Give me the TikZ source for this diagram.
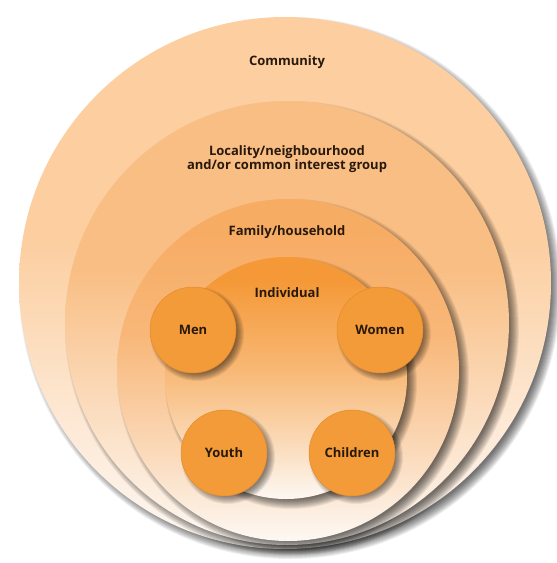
\documentclass[tikz,border=0pt]{standalone}
\usepackage{fontspec}
\setmainfont{Open Sans}
\definecolor{commC}{RGB}{252,206,160}
\definecolor{locC}{RGB}{249,190,132}
\definecolor{famC}{RGB}{247,172,100}
\definecolor{indC}{RGB}{245,153,56}
\definecolor{smallC}{RGB}{243,155,56}
\definecolor{smallE}{RGB}{230,138,44}
\definecolor{botW}{RGB}{253,248,243}
\definecolor{txtC}{RGB}{40,25,12}
\pgfdeclareverticalshading{commS}{100bp}{color(0bp)=(botW); color(25bp)=(botW); color(38bp)=(commC!40!botW); color(54bp)=(commC); color(100bp)=(commC)}
\pgfdeclareverticalshading{locS}{100bp}{color(0bp)=(botW); color(25bp)=(botW); color(38bp)=(locC!40!botW); color(56bp)=(locC); color(100bp)=(locC)}
\pgfdeclareverticalshading{famS}{100bp}{color(0bp)=(botW); color(25bp)=(botW); color(38bp)=(famC!40!botW); color(55bp)=(famC!85!botW); color(70bp)=(famC); color(100bp)=(famC)}
\pgfdeclareverticalshading{indS}{100bp}{color(0bp)=(botW); color(25bp)=(botW); color(38bp)=(indC!35!botW); color(52bp)=(indC!68!botW); color(70bp)=(indC); color(100bp)=(indC)}
\newcommand\mysoftshadow[4]{% coordinate, radius, offset, blur
  \foreach \k in {-#4,...,#4} {
    \fill[black, opacity=0.065] ([shift={(#3,#3)}]#1) circle[radius={(#2+\k)*1pt}];
  }
}
\begin{document}
\begin{tikzpicture}[x=1pt,y=-1pt,
  lbl/.style={font=\bfseries\fontsize{13}{14}\selectfont, text=txtC, align=center, inner sep=0pt},
  bigcirc/.style={circle, inner sep=0pt, draw=none},
  smallcirc/.style={circle, inner sep=0pt, minimum size=86pt, fill=smallC, draw=smallE, line width=0.5pt,
    font=\bfseries\fontsize{13}{14}\selectfont, text=txtC}]
\useasboundingbox (0,0) rectangle (557,563);
\fill[white] (0,0) rectangle (557,563);

\coordinate (cComm) at (285,283);
\coordinate (cLoc) at (287,323);
\coordinate (cFam) at (288,370);
\coordinate (cInd) at (286,378);
\coordinate (cMen) at (193,330);
\coordinate (cWomen) at (380,330);
\coordinate (cYouth) at (224,453);
\coordinate (cChild) at (352,453);

\mysoftshadow{cComm}{266}{5}{5}
\node[bigcirc, minimum size=532pt, shading=commS] (comm) at (cComm) {};
\mysoftshadow{cLoc}{222}{5}{5}
\node[bigcirc, minimum size=444pt, shading=locS] (loc) at (cLoc) {};
\mysoftshadow{cFam}{171}{5}{5}
\node[bigcirc, minimum size=342pt, shading=famS] (fam) at (cFam) {};
\mysoftshadow{cInd}{121}{5}{5}
\node[bigcirc, minimum size=242pt, shading=indS] (ind) at (cInd) {};

\mysoftshadow{cMen}{43}{4}{4}
\mysoftshadow{cWomen}{43}{4}{4}
\mysoftshadow{cYouth}{43}{4}{4}
\mysoftshadow{cChild}{43}{4}{4}
\node[smallcirc] (men) at (cMen) {Men};
\node[smallcirc] (women) at (cWomen) {Women};
\node[smallcirc] (youth) at (cYouth) {Youth};
\node[smallcirc] (children) at (cChild) {Children};

\node[lbl] (lcomm) at (287,62) {Community};
\node[lbl] (lloc) at (287,159) {Locality/neighbourhood\\and/or common interest group};
\node[lbl] (lfam) at (287,232) {Family/household};
\node[lbl] (lind) at (287,293) {Individual};
\end{tikzpicture}
\end{document}
